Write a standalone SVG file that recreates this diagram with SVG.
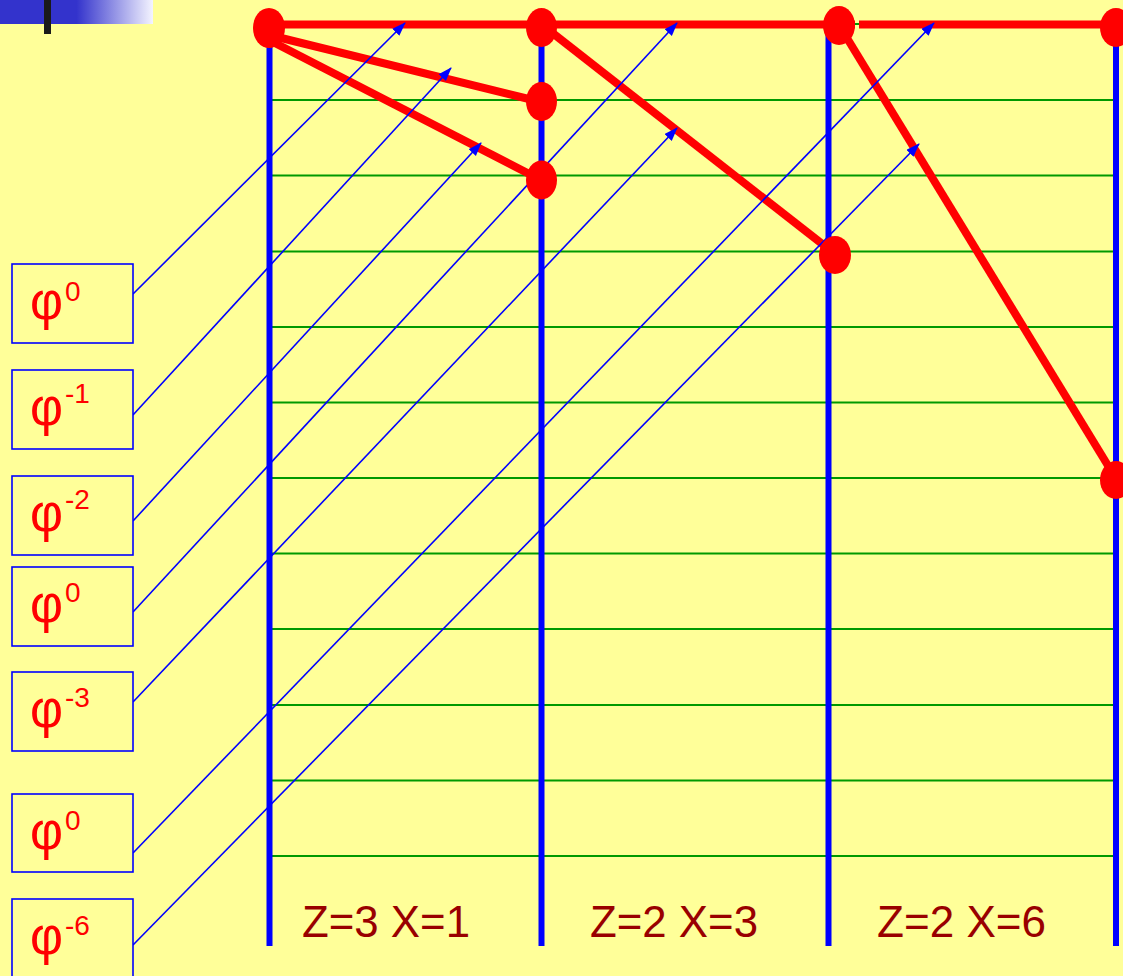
<svg xmlns="http://www.w3.org/2000/svg" width="1123" height="976" viewBox="0 0 1123 976">
<defs>
<linearGradient id="bar" x1="0" y1="0" x2="153" y2="0" gradientUnits="userSpaceOnUse">
<stop offset="0" stop-color="#3333CC"/>
<stop offset="0.5" stop-color="#3333CC"/>
<stop offset="1" stop-color="#F4F4FF"/>
</linearGradient>
<marker id="ah" markerUnits="userSpaceOnUse" markerWidth="14" markerHeight="11" refX="13" refY="5" orient="auto">
<path d="M0,0 L14,5 L0,10 z" fill="#0000FF"/>
</marker>
<style>
.grid{stroke:#009900;stroke-width:2;fill:none}
.col{stroke:#0000FF;stroke-width:6;fill:none}
.red{stroke:#FF0000;stroke-width:8;fill:none}
.node{fill:#FF0000}
.box{fill:#FFFF99;stroke:#0000FF;stroke-width:1.6}
.arr{stroke:#0000FF;stroke-width:1.6;fill:none;marker-end:url(#ah)}
.phi{font-family:"Liberation Sans",Arial,sans-serif;font-size:53px;fill:#FF0000}
.sup{font-family:"Liberation Sans",Arial,sans-serif;font-size:28px;fill:#FF0000}
.lab{font-family:"Liberation Sans",Arial,sans-serif;font-size:44px;fill:#990000}
</style>
</defs>
<rect x="0" y="0" width="1123" height="976" fill="#FFFF99"/>
<rect x="0" y="0" width="153" height="24" fill="url(#bar)"/>
<rect x="44" y="0" width="7" height="34" fill="#1A1A1A"/>

<g id="grid">
<line class="grid" x1="269" y1="24" x2="1116" y2="24"/>
<line class="grid" x1="269" y1="100" x2="1116" y2="100"/>
<line class="grid" x1="269" y1="175.5" x2="1116" y2="175.5"/>
<line class="grid" x1="269" y1="251.5" x2="1116" y2="251.5"/>
<line class="grid" x1="269" y1="327" x2="1116" y2="327"/>
<line class="grid" x1="269" y1="402.5" x2="1116" y2="402.5"/>
<line class="grid" x1="269" y1="478" x2="1116" y2="478"/>
<line class="grid" x1="269" y1="553.5" x2="1116" y2="553.5"/>
<line class="grid" x1="269" y1="629" x2="1116" y2="629"/>
<line class="grid" x1="269" y1="705" x2="1116" y2="705"/>
<line class="grid" x1="269" y1="780.5" x2="1116" y2="780.5"/>
<line class="grid" x1="269" y1="856" x2="1116" y2="856"/>
</g>

<g id="columns">
<line class="col" x1="269.5" y1="28" x2="269.5" y2="946"/>
<line class="col" x1="541.5" y1="28" x2="541.5" y2="946"/>
<line class="col" x1="828.5" y1="28" x2="828.5" y2="946"/>
<line class="col" x1="1116" y1="28" x2="1116" y2="946"/>
</g>

<g id="connectors">
<line class="red" x1="269" y1="24.5" x2="855" y2="24.5"/>
<line class="red" x1="859" y1="24.5" x2="1116" y2="24.5"/>
<line class="red" x1="269" y1="35" x2="541" y2="102"/>
<line class="red" x1="269" y1="40" x2="541" y2="180"/>
<line class="red" x1="541" y1="24" x2="835" y2="254"/>
<line class="red" x1="839" y1="25" x2="1118" y2="482"/>
<line class="arr" x1="133" y1="294" x2="405" y2="23"/>
<line class="arr" x1="133" y1="415" x2="451" y2="68"/>
<line class="arr" x1="133" y1="521" x2="481" y2="143"/>
<line class="arr" x1="133" y1="612" x2="677" y2="23"/>
<line class="arr" x1="133" y1="702" x2="677" y2="128"/>
<line class="arr" x1="133" y1="853" x2="934" y2="23"/>
<line class="arr" x1="133" y1="945" x2="919" y2="144"/>
</g>

<g id="nodes">
<ellipse id="n1" class="node" cx="269" cy="28" rx="16" ry="20"/>
<ellipse id="n2" class="node" cx="541.5" cy="27.5" rx="15.5" ry="19.5"/>
<ellipse id="n3" class="node" cx="839" cy="25.5" rx="16" ry="19.5"/>
<ellipse id="n4" class="node" cx="1116" cy="27.5" rx="16" ry="19.5"/>
<ellipse id="n5" class="node" cx="541.5" cy="101.5" rx="15.5" ry="19.5"/>
<ellipse id="n6" class="node" cx="541.5" cy="180" rx="15.5" ry="19.5"/>
<ellipse id="n7" class="node" cx="835" cy="255" rx="16" ry="19"/>
<ellipse id="n8" class="node" cx="1116" cy="480" rx="16" ry="19"/>
</g>

<g id="label1"><rect class="box" x="12" y="264" width="121" height="79"/><text class="phi" x="30" y="319" textLength="33" lengthAdjust="spacingAndGlyphs">φ</text><text class="sup" x="65" y="301">0</text></g>
<g id="label2"><rect class="box" x="12" y="370" width="121" height="79"/><text class="phi" x="30" y="425" textLength="33" lengthAdjust="spacingAndGlyphs">φ</text><text class="sup" x="65" y="403">-1</text></g>
<g id="label3"><rect class="box" x="12" y="476" width="121" height="79"/><text class="phi" x="30" y="531" textLength="33" lengthAdjust="spacingAndGlyphs">φ</text><text class="sup" x="65" y="509">-2</text></g>
<g id="label4"><rect class="box" x="12" y="567" width="121" height="79"/><text class="phi" x="30" y="622" textLength="33" lengthAdjust="spacingAndGlyphs">φ</text><text class="sup" x="65" y="602">0</text></g>
<g id="label5"><rect class="box" x="12" y="672" width="121" height="79"/><text class="phi" x="30" y="727" textLength="33" lengthAdjust="spacingAndGlyphs">φ</text><text class="sup" x="65" y="707">-3</text></g>
<g id="label6"><rect class="box" x="12" y="794" width="121" height="78"/><text class="phi" x="30" y="849" textLength="33" lengthAdjust="spacingAndGlyphs">φ</text><text class="sup" x="65" y="830">0</text></g>
<g id="label7"><rect class="box" x="12" y="899" width="121" height="90"/><text class="phi" x="30" y="954" textLength="33" lengthAdjust="spacingAndGlyphs">φ</text><text class="sup" x="65" y="935">-6</text></g>

<g id="zones">
<text class="lab" x="302" y="937" textLength="168" lengthAdjust="spacingAndGlyphs">Z=3 X=1</text>
<text class="lab" x="590" y="937" textLength="168" lengthAdjust="spacingAndGlyphs">Z=2 X=3</text>
<text class="lab" x="877" y="937" textLength="169" lengthAdjust="spacingAndGlyphs">Z=2 X=6</text>
</g>
</svg>
